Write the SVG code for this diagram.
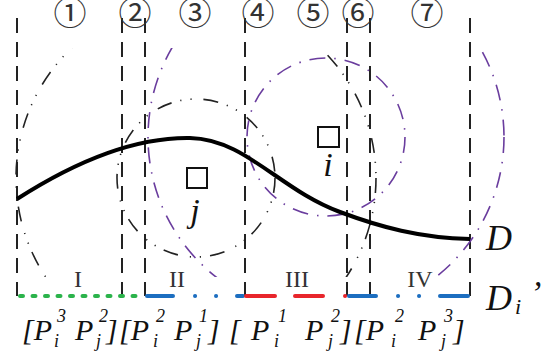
<svg xmlns="http://www.w3.org/2000/svg" width="550" height="351" viewBox="0 0 550 351">
<style>
.vl{stroke:#222;stroke-width:2;stroke-dasharray:15 9;fill:none}
.bk{stroke:#222;stroke-width:1.6;fill:none;stroke-dasharray:15 9 1.2 9 1.2 12}
.pu{stroke:#6a3d9e;stroke-width:1.6;fill:none;stroke-dasharray:16 9 1.5 9}
.sq{fill:none;stroke:#111;stroke-width:2}
.it{font-family:"Liberation Serif","Times New Roman",serif;font-style:italic;fill:#111}
.rm{font-family:"Liberation Serif","Times New Roman",serif;fill:#333;font-size:24px}
.cn{font-family:"Noto Sans CJK SC","DejaVu Sans",sans-serif;fill:#333;font-size:33px;text-anchor:middle}
.seg{stroke-width:4;stroke-linecap:round;fill:none}
.s{font-size:18px}
</style>
<defs>
<clipPath id="band"><rect x="0" y="48" width="550" height="229"/></clipPath>
</defs>
<rect width="550" height="351" fill="#fff"/>
<g id="grid">
<line class="vl" x1="17" y1="18" x2="17" y2="296"/>
<line class="vl" x1="122" y1="18" x2="122" y2="296"/>
<line class="vl" x1="145" y1="18" x2="145" y2="296"/>
<line class="vl" x1="245" y1="18" x2="245" y2="296"/>
<line class="vl" x1="347" y1="18" x2="347" y2="296"/>
<line class="vl" x1="370" y1="18" x2="370" y2="296"/>
<line class="vl" x1="470" y1="18" x2="470" y2="296"/>
</g>
<g id="region-numbers">
<text class="cn" x="70" y="25">①</text>
<text class="cn" x="135" y="25">②</text>
<text class="cn" x="195" y="25">③</text>
<text class="cn" x="258" y="25">④</text>
<text class="cn" x="313" y="25">⑤</text>
<text class="cn" x="358" y="25">⑥</text>
<text class="cn" x="427" y="25">⑦</text>
</g>
<g id="circles-j">
<circle class="bk" cx="196" cy="178" r="79"/>
<circle class="bk" cx="196" cy="178" r="180" clip-path="url(#band)"/>
</g>
<g id="circles-i">
<circle class="pu" cx="326" cy="137" r="79"/>
<circle class="pu" cx="326" cy="137" r="178" clip-path="url(#band)"/>
</g>
<g id="curve-D">
<path d="M17,199 C70,165 130,137 190,138 C245,139 280,190 340,212 C380,227 420,238 470,239" fill="none" stroke="#000" stroke-width="4"/>
<text class="it" x="486" y="250" font-size="36">D</text>
</g>
<g id="node-j">
<rect class="sq" x="187" y="168" width="20" height="20"/>
<text class="it" x="195" y="222" font-size="34" text-anchor="middle">j</text>
</g>
<g id="node-i">
<rect class="sq" x="318" y="127" width="21" height="20"/>
<text class="it" x="328" y="176" font-size="34" text-anchor="middle">i</text>
</g>
<g id="segments">
<path class="seg" stroke="#2bb34b" stroke-dasharray="3 9.5" d="M20,296 H138"/>
<path class="seg" stroke="#1c6ec0" d="M147,296 H173 M195,296 h0.1 M216,296 h0.1 M237,296 H243"/>
<path class="seg" stroke="#e8252b" d="M246,296 H275 M295,296 H323 M345,296 h0.1"/>
<path class="seg" stroke="#1c6ec0" d="M349,296 H376 M398,296 h0.1 M419,296 h0.1 M440,296 H468"/>
<text class="it" x="486" y="310" font-size="36">D</text>
<text class="it" x="515" y="314" font-size="22">i</text>
<text class="it" x="530" y="304" font-size="34">’</text>
</g>
<g id="roman">
<text class="rm" x="78" y="287" text-anchor="middle">I</text>
<text class="rm" x="177" y="287" text-anchor="middle">II</text>
<text class="rm" x="297" y="287" text-anchor="middle">III</text>
<text class="rm" x="420" y="287" text-anchor="middle">IV</text>
</g>
<g id="interval-labels" class="it" font-size="30">
<text x="22" y="340">[P</text>
<text class="s" x="57" y="322">3</text>
<text class="s" x="54" y="347">i</text>
<text x="75" y="340">P</text>
<text class="s" x="99" y="322">2</text>
<text class="s" x="96" y="347">j</text>
<text x="106" y="340">]</text>
<text x="119" y="340">[P</text>
<text class="s" x="156" y="322">2</text>
<text class="s" x="153" y="347">i</text>
<text x="174" y="340">P</text>
<text class="s" x="199" y="322">1</text>
<text class="s" x="196" y="347">j</text>
<text x="208" y="340">]</text>
<text x="229" y="340">[</text>
<text x="251" y="340">P</text>
<text class="s" x="278" y="322">1</text>
<text class="s" x="274" y="347">i</text>
<text x="305" y="340">P</text>
<text class="s" x="331" y="322">2</text>
<text class="s" x="328" y="347">j</text>
<text x="340" y="340">]</text>
<text x="354" y="340">[P</text>
<text class="s" x="395" y="322">2</text>
<text class="s" x="391" y="347">i</text>
<text x="418" y="340">P</text>
<text class="s" x="444" y="322">3</text>
<text class="s" x="441" y="347">j</text>
<text x="453" y="340">]</text>
</g>
</svg>
